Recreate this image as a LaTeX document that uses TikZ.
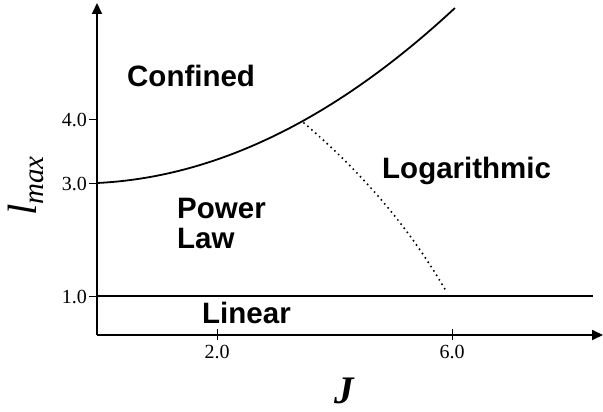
\documentclass[tikz,border=0pt]{standalone}
\usepackage{fontspec}
\setmainfont{Liberation Serif}
\newfontfamily\hv{Liberation Sans}
\usetikzlibrary{arrows.meta}
\tikzset{
  axis/.style={line width=2pt,-{Triangle[length=11pt,width=10pt]}},
  region/.style={inner sep=0pt,font=\hv\bfseries\fontsize{29.5}{30}\selectfont},
  ticklab/.style={inner sep=0pt,font=\fontsize{20}{20}\selectfont},
  tickmark/.style={line width=1pt},
  boundary/.style={line width=1.8pt},
  crossover/.style={line width=2.2pt,line cap=round,dash pattern=on 0pt off 5.2pt}
}
\begin{document}
\begin{tikzpicture}[x=1pt,y=-1pt]
\useasboundingbox (0,0) rectangle (603,412);
% axes
\coordinate (O) at (97,335);
\coordinate (ytop) at (97,3);
\coordinate (xend) at (603,335);
\draw[axis] (O) -- (ytop);
\draw[axis] (O) -- (xend);
% y ticks
\coordinate (y4) at (97,120);
\coordinate (y3) at (97,183);
\coordinate (y1) at (97,296);
\draw[tickmark] (y4) -- ++(-8,0);
\draw[tickmark] (y3) -- ++(-8,0);
\draw[tickmark] (y1) -- ++(-8,0);
\node[ticklab,anchor=base east] (l4) at (87,127) {4.0};
\node[ticklab,anchor=base east] (l3) at (87,190) {3.0};
\node[ticklab,anchor=base east] (l1) at (87,303) {1.0};
% x ticks
\coordinate (x2) at (217,329);
\coordinate (x6) at (452,329);
\draw[tickmark] (x2) -- ++(0,11);
\draw[tickmark] (x6) -- ++(0,11);
\node[ticklab,anchor=base] (l2x) at (217,358) {2.0};
\node[ticklab,anchor=base] (l6x) at (452,358) {6.0};
% linear boundary
\coordinate (linend) at (593,296);
\draw[line width=1.6pt] (y1) -- (linend);
% confined boundary
\draw[boundary] plot[domain=0:3.58,samples=80,smooth] ({97+100*\x},{183-12.33*\x*\x-4.76*\x});
% dotted crossover
\coordinate (d0) at (304,123);
\coordinate (d1) at (446,291);
\draw[crossover] (d0) .. controls (363.3,173.7) and (410.7,229.7) .. (d1);
% region labels
\node[region,anchor=base west] (confined) at (127,87) {Confined};
\node[region,anchor=base west] (power) at (177,218) {Power};
\node[region,anchor=base west] (law) at (177,248) {Law};
\node[region,anchor=base west] (log) at (382,178) {Logarithmic};
\node[region,anchor=base west] (linear) at (202,323) {Linear};
% axis labels
\node[inner sep=0pt,rotate=90,anchor=base] (ylab) at (36,186) {\fontsize{41}{41}\selectfont\itshape l\raisebox{-7pt}{\fontsize{29}{29}\selectfont max}};
\node[inner sep=0pt,anchor=base] (xlab) at (344,403) {\fontsize{39}{39}\selectfont\bfseries\itshape J};
\end{tikzpicture}
\end{document}
